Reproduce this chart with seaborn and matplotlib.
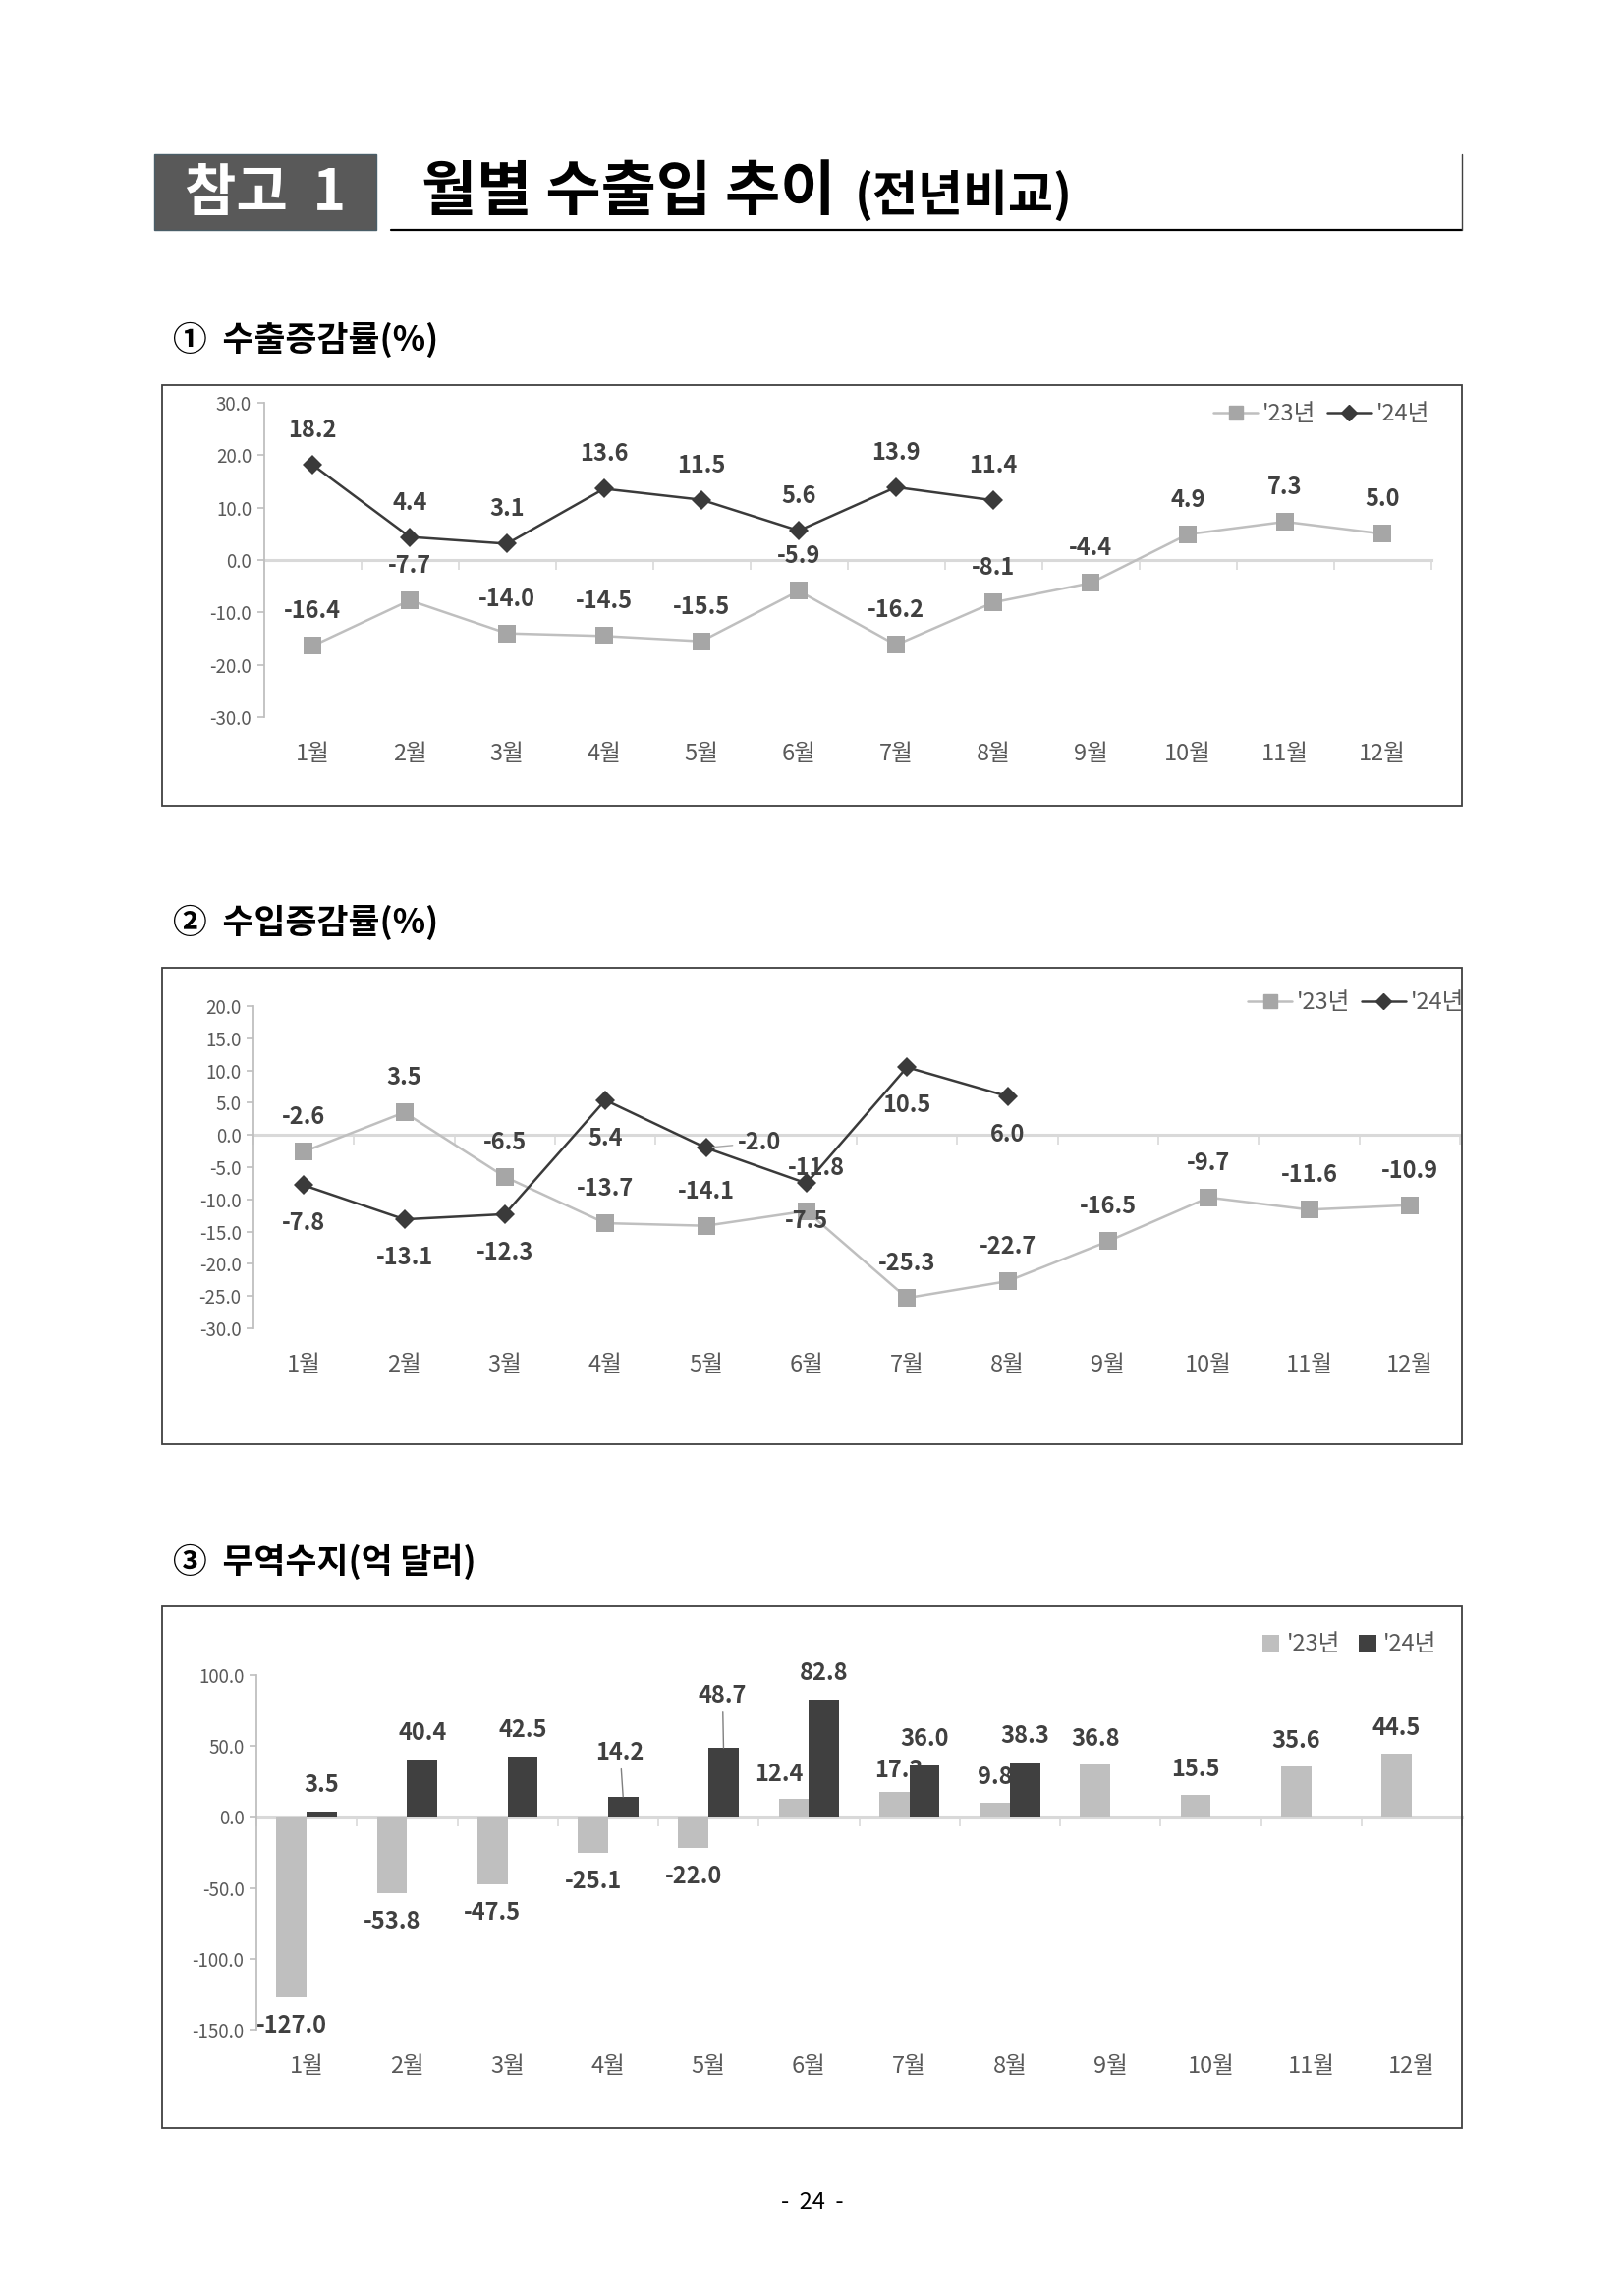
import numpy as np
import pandas as pd
import matplotlib
matplotlib.use("Agg")
import matplotlib.pyplot as plt
import seaborn as sns
from matplotlib.patches import Rectangle, Patch
from matplotlib.lines import Line2D
from matplotlib.ticker import FuncFormatter

# ---------------- data ----------------
months = ["1월", "2월", "3월", "4월", "5월", "6월", "7월", "8월", "9월", "10월", "11월", "12월"]
series_names = ["'23년", "'24년"]

export_23 = [-16.4, -7.7, -14.0, -14.5, -15.5, -5.9, -16.2, -8.1, -4.4, 4.9, 7.3, 5.0]
export_24 = [18.2, 4.4, 3.1, 13.6, 11.5, 5.6, 13.9, 11.4]

import_23 = [-2.6, 3.5, -6.5, -13.7, -14.1, -11.8, -25.3, -22.7, -16.5, -9.7, -11.6, -10.9]
import_24 = [-7.8, -13.1, -12.3, 5.4, -2.0, -7.5, 10.5, 6.0]

balance_23 = [-127.0, -53.8, -47.5, -25.1, -22.0, 12.4, 17.3, 9.8, 36.8, 15.5, 35.6, 44.5]
balance_24 = [3.5, 40.4, 42.5, 14.2, 48.7, 82.8, 36.0, 38.3]

# ---------------- style ----------------
C23_LINE = "#BFBFBF"
C23_MARK = "#A6A6A6"
C24 = "#3A3A3A"
C23_BAR = "#BFBFBF"
C24_BAR = "#404040"
LABEL_C = "#404040"
TICK_C = "#595959"
AXIS_C = "#BFBFBF"
ZERO_C = "#D9D9D9"

W, H = 1653, 2337
sns.set_theme(style="white")
plt.rcParams["font.family"] = ["Noto Sans CJK KR", "DejaVu Sans"]
plt.rcParams["axes.unicode_minus"] = False

fig = plt.figure(figsize=(W / 100, H / 100), dpi=100)
fig.patch.set_facecolor("white")

PX = 0.72  # px -> points at 100 dpi


def fxy(x, y):
    return x / W, 1 - y / H


def add_ax(l, t, r, b):
    return fig.add_axes([l / W, 1 - b / H, (r - l) / W, (b - t) / H])


def frame(l, t, r, b, ec="#404040", lw=1.3, fc=None):
    fig.add_artist(Rectangle((l / W, 1 - b / H), (r - l) / W, (b - t) / H,
                             transform=fig.transFigure, fill=fc is not None,
                             facecolor=fc if fc else "none", edgecolor=ec, lw=lw))


def hline(x1, x2, y, color="black", lw=1.5):
    fig.add_artist(Line2D([x1 / W, x2 / W], [1 - y / H, 1 - y / H],
                          transform=fig.transFigure, color=color, lw=lw))


def vline(x, y1, y2, color="black", lw=1.0):
    fig.add_artist(Line2D([x / W, x / W], [1 - y1 / H, 1 - y2 / H],
                          transform=fig.transFigure, color=color, lw=lw))


def style_axes(ax, ylo, yhi, step):
    ax.set_xlim(-0.5, 11.5)
    ax.set_ylim(ylo, yhi)
    ax.set_yticks(np.arange(ylo, yhi + 0.001, step))
    ax.yaxis.set_major_formatter(FuncFormatter(lambda v, p: f"{v:.1f}"))
    for s in ["top", "right", "bottom"]:
        ax.spines[s].set_visible(False)
    ax.spines["left"].set_color(AXIS_C)
    ax.spines["left"].set_linewidth(1.3)
    ax.tick_params(axis="y", which="both", direction="out", length=5, width=1.2,
                   color=AXIS_C, labelsize=13.5, labelcolor=TICK_C, pad=4, left=True)
    ax.set_xticks(range(12))
    ax.set_xticklabels(months)
    ax.tick_params(axis="x", length=0, pad=19, labelsize=17, labelcolor=TICK_C)
    ax.set_xlabel("")
    ax.set_ylabel("")
    ax.grid(False)
    ax.patch.set_alpha(0)
    frac = (0 - ylo) / (yhi - ylo)
    sec = ax.secondary_xaxis(frac)
    sec.set_alignment("bottom")
    sec.set_xticks(np.arange(-0.5, 12, 1))
    sec.tick_params(axis="x", direction="out", length=7, width=1.2, color=ZERO_C,
                    labelbottom=False, labeltop=False)
    sec.spines["bottom"].set_color(ZERO_C)
    sec.spines["bottom"].set_linewidth(2.2)
    sec.spines["top"].set_visible(False)


def label(ax, text, x, y, dx_px=0, dy_px=0, leader=False, leader_color="#7F7F7F", z=4, shrinkB=0):
    kw = dict(textcoords="offset points", ha="center", va="center",
              fontsize=17, fontweight="bold", color=LABEL_C, zorder=z)
    if leader:
        kw["arrowprops"] = dict(arrowstyle="-", color=leader_color, lw=1.0,
                                shrinkA=1, shrinkB=shrinkB)
    ax.annotate(text, (x, y), xytext=(dx_px * PX, dy_px * PX), **kw)


def line_legend(ax, x_right, y_center):
    h = [Line2D([], [], color=C23_LINE, lw=1.8, marker="s", markersize=10.5,
                markerfacecolor=C23_MARK, markeredgecolor=C23_MARK),
         Line2D([], [], color=C24, lw=1.8, marker="D", markersize=8,
                markerfacecolor=C24, markeredgecolor=C24)]
    x, y = fxy(x_right, y_center)
    leg = ax.legend(h, series_names, loc="center right", bbox_to_anchor=(x, y),
                    bbox_transform=fig.transFigure, ncol=2, frameon=False,
                    fontsize=17, handlelength=1.9, handletextpad=0.2,
                    columnspacing=0.5, borderpad=0, borderaxespad=0)
    for t in leg.get_texts():
        t.set_color(TICK_C)


# ---------------- header ----------------
frame(157, 157, 383, 234, ec="#4A5E68", lw=1.0, fc="#595959")
fig.text(*fxy(270, 197), "참고  1", ha="center", va="center", fontsize=41,
         fontweight="bold", color="white")
fig.text(*fxy(429, 196), "월별 수출입 추이", ha="left", va="center", fontsize=44,
         fontweight="bold", color="black")
fig.text(*fxy(870, 199), "(전년비교)", ha="left", va="center", fontsize=36,
         fontweight="bold", color="black")
hline(398, 1488, 234, lw=1.6)
vline(1488, 157, 234, color="#404040", lw=1.0)

# ---------------- chart 1: export growth ----------------
fig.text(*fxy(176, 346), "①  수출증감률(%)", ha="left", va="center", fontsize=25,
         fontweight="bold", color="black")
frame(165, 392, 1488, 820)
ax1 = add_ax(268.5, 410, 1456.5, 730)
x_all = np.arange(12)
sns.lineplot(x=x_all, y=export_23, ax=ax1, color=C23_LINE, linewidth=1.8,
             marker="s", markersize=13, markerfacecolor=C23_MARK,
             markeredgecolor=C23_MARK, markeredgewidth=0, zorder=3)
sns.lineplot(x=x_all[:len(export_24)], y=export_24, ax=ax1, color=C24, linewidth=1.8,
             marker="D", markersize=10, markerfacecolor=C24,
             markeredgecolor=C24, markeredgewidth=0, zorder=3)
style_axes(ax1, -30, 30, 10)
for i, v in enumerate(export_23):
    label(ax1, f"{v:.1f}", i, v, 0, 35)
for i, v in enumerate(export_24):
    label(ax1, f"{v:.1f}", i, v, 0, 35)
line_legend(ax1, 1455, 422)

# ---------------- chart 2: import growth ----------------
fig.text(*fxy(176, 939), "②  수입증감률(%)", ha="left", va="center", fontsize=25,
         fontweight="bold", color="black")
frame(165, 985, 1488, 1470)
ax2 = add_ax(258, 1024, 1486, 1352)
sns.lineplot(x=x_all, y=import_23, ax=ax2, color=C23_LINE, linewidth=1.8,
             marker="s", markersize=13, markerfacecolor=C23_MARK,
             markeredgecolor=C23_MARK, markeredgewidth=0, zorder=3)
sns.lineplot(x=x_all[:len(import_24)], y=import_24, ax=ax2, color=C24, linewidth=1.8,
             marker="D", markersize=10, markerfacecolor=C24,
             markeredgecolor=C24, markeredgewidth=0, zorder=3)
style_axes(ax2, -30, 20, 5)
off23 = {5: (10, 44)}
for i, v in enumerate(import_23):
    dx, dy = off23.get(i, (0, 35))
    label(ax2, f"{v:.1f}", i, v, dx, dy)
for i, v in enumerate(import_24):
    if i == 4:
        label(ax2, f"{v:.1f}", i, v, 54, 5, leader=True, leader_color="#A6A6A6", shrinkB=5)
    else:
        label(ax2, f"{v:.1f}", i, v, 0, -39)
line_legend(ax2, 1490, 1021)

# ---------------- chart 3: trade balance ----------------
fig.text(*fxy(176, 1590), "③  무역수지(억 달러)", ha="left", va="center", fontsize=25,
         fontweight="bold", color="black")
frame(165, 1635, 1488, 2166)
ax3 = add_ax(261, 1705, 1488, 2066)
df3 = pd.DataFrame({
    "month": months * 2,
    "series": [series_names[0]] * 12 + [series_names[1]] * 12,
    "value": balance_23 + balance_24 + [np.nan] * (12 - len(balance_24)),
})
sns.barplot(data=df3, x="month", y="value", hue="series", order=months,
            hue_order=series_names, palette=[C23_BAR, C24_BAR], width=0.6,
            saturation=1, errorbar=None, ax=ax3, legend=False, linewidth=0)
style_axes(ax3, -150, 100, 50)

cont23, cont24 = ax3.containers[0], ax3.containers[1]
for i, (bar, v) in enumerate(zip(cont23, balance_23)):
    cx = bar.get_x() + bar.get_width() / 2
    if v < 0:
        dx, dy = 0, -29
    else:
        dx, dy = 0, 26
    if i == 5:
        dx, dy = -15, 25
    if i == 6:
        dx, dy = 5, 22
    label(ax3, f"{v:.1f}", cx, v, dx, dy, z=0.5)
for i, (bar, v) in enumerate(zip(cont24, balance_24)):
    cx = bar.get_x() + bar.get_width() / 2
    if i == 3:
        label(ax3, f"{v:.1f}", cx, v, -3, 45, leader=True)
    elif i == 4:
        label(ax3, f"{v:.1f}", cx, v, -1, 53, leader=True)
    else:
        label(ax3, f"{v:.1f}", cx, v, 0, 27)

bh = [Patch(facecolor=C23_BAR, edgecolor="none"), Patch(facecolor=C24_BAR, edgecolor="none")]
lx, ly = fxy(1462, 1674)
leg3 = ax3.legend(bh, series_names, loc="center right", bbox_to_anchor=(lx, ly),
                  bbox_transform=fig.transFigure, ncol=2, frameon=False, fontsize=17,
                  handlelength=0.75, handleheight=0.75, handletextpad=0.3,
                  columnspacing=0.8, borderpad=0, borderaxespad=0)
for t in leg3.get_texts():
    t.set_color(TICK_C)

# ---------------- page number ----------------
fig.text(*fxy(827, 2242), "-  24  -", ha="center", va="center", fontsize=17, color="black")

fig.savefig("out.png", dpi=100)
